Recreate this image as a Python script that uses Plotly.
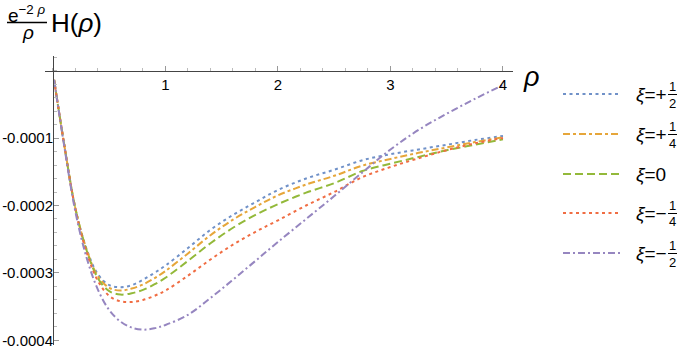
import plotly.graph_objects as go

# ---------------- data ----------------
rho = [0.01, 0.1, 0.2, 0.3, 0.4, 0.5, 0.6, 0.7, 0.8, 0.9, 1.0, 1.2, 1.4, 1.6,
       1.8, 2.0, 2.25, 2.5, 2.75, 3.0, 3.25, 3.5, 3.75, 4.0]

xi_p_half = [-0.000014, -0.00011, -0.000205, -0.000265, -0.000302, -0.000318, -0.000321,
             -0.000318, -0.00031, -0.0003, -0.000289, -0.000263, -0.000236, -0.000214,
             -0.000195, -0.000177, -0.00016, -0.000147, -0.000133, -0.000124, -0.000117,
             -0.00011, -0.000103, -0.000097]
xi_p_quarter = [-0.000014, -0.00011, -0.000205, -0.000266, -0.000305, -0.000322, -0.000326,
                -0.000323, -0.000317, -0.000308, -0.000297, -0.000271, -0.000244, -0.000221,
                -0.000202, -0.000185, -0.000169, -0.000156, -0.000141, -0.000131, -0.000122,
                -0.000114, -0.000106, -0.000099]
xi_zero = [-0.000014, -0.00011, -0.000205, -0.000267, -0.000308, -0.000327, -0.000332,
           -0.00033, -0.000325, -0.000317, -0.000307, -0.000282, -0.000256, -0.000233,
           -0.000214, -0.000198, -0.000181, -0.000167, -0.000149, -0.000138, -0.000128,
           -0.000118, -0.00011, -0.000102]
xi_m_quarter = [-0.000014, -0.00011, -0.000206, -0.00027, -0.000312, -0.000334, -0.000342,
                -0.000343, -0.00034, -0.000334, -0.000326, -0.000304, -0.00028, -0.000258,
                -0.000239, -0.000222, -0.0002, -0.00018, -0.000158, -0.000143, -0.00013,
                -0.000118, -0.000108, -0.0001]
xi_m_half = [-0.000014, -0.000112, -0.00021, -0.000278, -0.000325, -0.000355, -0.000372,
             -0.000381, -0.000384, -0.000382, -0.000377, -0.000362, -0.000337, -0.00031,
             -0.000282, -0.000254, -0.00022, -0.000186, -0.000151, -0.000117, -0.000088,
             -0.000064, -0.000042, -0.0000215]

series = [xi_p_half, xi_p_quarter, xi_zero, xi_m_quarter, xi_m_half]
signs = ["+", "+", "", "−", "−"]
numer = ["1", "1", "0", "1", "1"]
denom = ["2", "4", None, "4", "2"]
colors = ["#7091c8", "#e6a63a", "#93b93a", "#f06d43", "#9686c0"]
dashes = ["3px,3.5px", "7px,3px,3px,3px", "8px,4px", "3px,3.5px", "7px,3px,2px,3px"]

x_ticks = [1, 2, 3, 4]
y_ticks = [-0.0004, -0.0003, -0.0002, -0.0001]
y_ticktext = ["-0.0004", "-0.0003", "-0.0002", "-0.0001"]

# ---------------- layout geometry ----------------
W, H = 690, 350
ML, MR, MT, MB = 45, 177, 56, 5
x_range = [-0.071, 4.089]
y_range = [-0.0004067, 0.0000215]
PW, PH = W - ML - MR, H - MT - MB


def px2paper(px, py):
    return (px - ML) / PW, (H - MB - py) / PH


FONT = "Liberation Sans, Arial, sans-serif"

fig = go.Figure()
for ys, c, d in zip(series, colors, dashes):
    fig.add_trace(go.Scatter(x=rho, y=ys, mode="lines",
                             line=dict(color=c, width=2, dash=d, shape="spline", smoothing=1.0),
                             showlegend=False, hoverinfo="skip"))

xpos = (0 - y_range[0]) / (y_range[1] - y_range[0])
ypos = (0 - x_range[0]) / (x_range[1] - x_range[0])

fig.update_layout(
    width=W, height=H,
    margin=dict(l=ML, r=MR, t=MT, b=MB, autoexpand=False),
    paper_bgcolor="white", plot_bgcolor="white",
    font=dict(family=FONT, size=15, color="black"),
    xaxis=dict(range=x_range, anchor="free", position=xpos, side="bottom", automargin=False,
               showgrid=False, zeroline=False, showline=True, linecolor="#444", linewidth=1,
               tickvals=x_ticks, ticks="inside", ticklen=5, tickcolor="#999", tickwidth=1,
               ticklabelstandoff=0,
               tickfont=dict(size=15, family=FONT, color="black"),
               minor=dict(dtick=0.2, tick0=0, ticks="inside", ticklen=3, tickcolor="#bbb")),
    yaxis=dict(range=y_range, anchor="free", position=ypos, side="left", automargin=False,
               showgrid=False, zeroline=False, showline=True, linecolor="#444", linewidth=1,
               tickvals=y_ticks, ticktext=y_ticktext, ticks="inside", ticklen=5,
               ticklabelstandoff=-3,
               tickcolor="#999", tickwidth=1, tickfont=dict(size=15, family=FONT, color="black"),
               minor=dict(dtick=0.00002, tick0=0, ticks="inside", ticklen=3, tickcolor="#bbb")),
)

annotations = []
shapes = []

# title: e^{-2 rho}/rho H(rho)
x0, y0 = px2paper(6, 14)
annotations.append(dict(xref="paper", yref="paper", x=x0, y=y0, xanchor="left", yanchor="middle",
                        text="e<sup>−2 <i>ρ</i></sup>", showarrow=False,
                        font=dict(size=19, family=FONT, color="black")))
bx0, by = px2paper(7, 22.5)
bx1, _ = px2paper(47, 22.5)
shapes.append(dict(type="line", xref="paper", yref="paper", x0=bx0, x1=bx1, y0=by, y1=by,
                   line=dict(color="black", width=1.3)))
x0, y0 = px2paper(28, 32)
annotations.append(dict(xref="paper", yref="paper", x=x0, y=y0, xanchor="center", yanchor="middle",
                        text="<i>ρ</i>", showarrow=False, font=dict(size=19, family=FONT)))
x0, y0 = px2paper(49, 23)
annotations.append(dict(xref="paper", yref="paper", x=x0, y=y0, xanchor="left", yanchor="middle",
                        text="H(<i>ρ</i>)", showarrow=False, font=dict(size=26, family=FONT)))

# axis label rho
x0, y0 = px2paper(531, 77)
annotations.append(dict(xref="paper", yref="paper", x=x0, y=y0, xanchor="center", yanchor="middle",
                        text="<i>ρ</i>", showarrow=False, font=dict(size=27, family=FONT)))

# manual legend
leg_y = [94, 134, 174, 213, 253]
for i in range(5):
    py = leg_y[i]
    lx0, ly = px2paper(563, py)
    lx1, _ = px2paper(620, py)
    shapes.append(dict(type="line", xref="paper", yref="paper", x0=lx0, x1=lx1, y0=ly, y1=ly,
                       line=dict(color=colors[i], width=2, dash=dashes[i])))
    tx, ty = px2paper(634, py)
    if denom[i] is None:
        annotations.append(dict(xref="paper", yref="paper", x=tx, y=ty, xanchor="left",
                                yanchor="middle", text="<i>ξ</i>=" + numer[i], showarrow=False,
                                font=dict(size=19, family=FONT)))
    else:
        annotations.append(dict(xref="paper", yref="paper", x=tx, y=ty, xanchor="left",
                                yanchor="middle", text="<i>ξ</i>=" + signs[i], showarrow=False,
                                font=dict(size=19, family=FONT)))
        nx, ny = px2paper(672.5, py - 8)
        annotations.append(dict(xref="paper", yref="paper", x=nx, y=ny, xanchor="center",
                                yanchor="middle", text=numer[i], showarrow=False,
                                font=dict(size=13, family=FONT)))
        nx, ny = px2paper(672.5, py + 9)
        annotations.append(dict(xref="paper", yref="paper", x=nx, y=ny, xanchor="center",
                                yanchor="middle", text=denom[i], showarrow=False,
                                font=dict(size=13, family=FONT)))
        fx0, fy = px2paper(668, py + 0.5)
        fx1, _ = px2paper(677, py + 0.5)
        shapes.append(dict(type="line", xref="paper", yref="paper", x0=fx0, x1=fx1, y0=fy, y1=fy,
                           line=dict(color="black", width=1)))

fig.update_layout(annotations=annotations, shapes=shapes)
fig.write_html("out.html")
